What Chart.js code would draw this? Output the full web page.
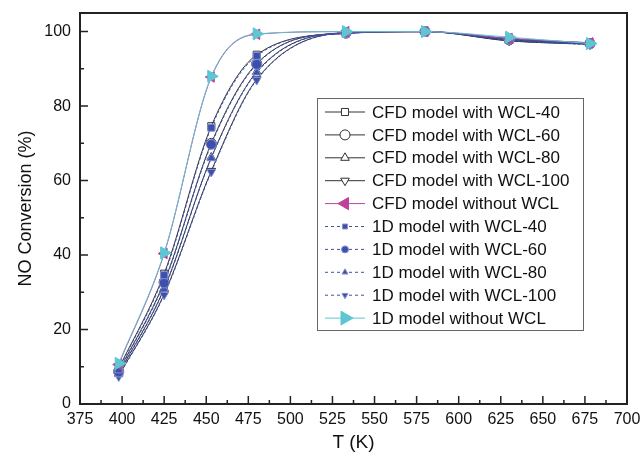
<!DOCTYPE html>
<html><head><meta charset="utf-8">
<script src="https://cdn.jsdelivr.net/npm/chart.js@4.4.1/dist/chart.umd.min.js"></script>
<style>html,body{margin:0;padding:0;background:#fff}#wrap{width:642px;height:461px}</style>
</head><body><div id="wrap"><canvas id="c"></canvas></div>
<script>
const temps = [398, 425, 453, 480, 533, 580, 630, 678];
const cfd40  = [9.5, 35.0, 74.6, 93.8, 99.5, 100, 98.0, 97.0];
const cfd60  = [8.8, 32.8, 70.0, 91.4, 99.6, 100, 97.8, 96.8];
const cfd80  = [8.2, 31.0, 66.2, 89.2, 99.7, 100, 97.6, 96.7];
const cfd100 = [7.6, 29.5, 62.6, 87.2, 99.7, 100, 97.5, 96.6];
const cfdNo  = [10.6, 40.4, 87.8, 99.3, 100, 100, 98.2, 97.0];
const d40    = [9.3, 34.6, 74.2, 93.5, 99.5, 100, 98.2, 96.9];
const d60    = [8.6, 32.5, 69.7, 91.2, 99.6, 100, 98.0, 96.7];
const d80    = [8.0, 30.8, 66.0, 89.0, 99.7, 100, 97.8, 96.6];
const d100   = [7.4, 29.3, 62.3, 87.0, 99.7, 100, 97.6, 96.5];
const dNo    = [10.9, 40.6, 88.0, 99.4, 100, 100, 98.5, 96.8];
const labels = ["CFD model with WCL-40","CFD model with WCL-60","CFD model with WCL-80","CFD model with WCL-100","CFD model without WCL",
  "1D model with WCL-40","1D model with WCL-60","1D model with WCL-80","1D model with WCL-100","1D model without WCL"];
const xTicks = [375,400,425,450,475,500,525,550,575,600,625,650,675,700];
const yTicks = [0,20,40,60,80,100];

const dark = '#333333', blue = '#3a4fb0', mag = '#c0409a', cyan = '#5cc6d2';
function pts(arr){ return temps.map((t,i)=>({x:t,y:arr[i]})); }
function ds(label, arr, opt){
  return Object.assign({label, data: pts(arr), borderWidth:1, pointRadius:5, pointHoverRadius:5,
    cubicInterpolationMode:'monotone', fill:false}, opt);
}
const datasets = [
  ds(labels[5], d40, {borderColor:blue, borderDash:[3,2], pointStyle:'rect', pointBackgroundColor:blue, pointBorderColor:'#8890c8', order:2}),
  ds(labels[6], d60, {borderColor:blue, borderDash:[3,2], pointStyle:'circle', pointBackgroundColor:blue, pointBorderColor:'#8890c8', order:2}),
  ds(labels[7], d80, {borderColor:blue, borderDash:[3,2], pointStyle:'triangle', pointBackgroundColor:blue, pointBorderColor:'#8890c8', order:2}),
  ds(labels[8], d100, {borderColor:blue, borderDash:[3,2], pointStyle:'triangle', pointRotation:180, pointBackgroundColor:blue, pointBorderColor:'#8890c8', order:2}),
  ds(labels[0], cfd40, {borderColor:dark, pointStyle:'rect', pointBackgroundColor:'rgba(255,255,255,0)', pointBorderColor:dark, order:3}),
  ds(labels[1], cfd60, {borderColor:dark, pointStyle:'circle', pointBackgroundColor:'rgba(255,255,255,0)', pointBorderColor:dark, order:3}),
  ds(labels[2], cfd80, {borderColor:dark, pointStyle:'triangle', pointBackgroundColor:'rgba(255,255,255,0)', pointBorderColor:dark, order:3}),
  ds(labels[3], cfd100, {borderColor:dark, pointStyle:'triangle', pointRotation:180, pointBackgroundColor:'rgba(255,255,255,0)', pointBorderColor:dark, order:3}),
  ds(labels[4], cfdNo, {borderColor:mag, pointStyle:'triangle', pointRotation:-90, pointBackgroundColor:mag, pointBorderColor:mag, pointRadius:6, order:1}),
  ds(labels[9], dNo, {borderColor:cyan, pointStyle:'triangle', pointRotation:90, pointBackgroundColor:cyan, pointBorderColor:cyan, pointRadius:7, order:0})
];
const legendStyles = [
  {dash:[], color:dark, style:'rect', fill:'#fff', border:dark},
  {dash:[], color:dark, style:'circle', fill:'#fff', border:dark},
  {dash:[], color:dark, style:'triangle', rot:0, fill:'#fff', border:dark},
  {dash:[], color:dark, style:'triangle', rot:180, fill:'#fff', border:dark},
  {dash:[], color:mag, style:'triangle', rot:-90, fill:mag, border:mag, r:7},
  {dash:[3,3], color:blue, style:'rect', fill:blue, border:'#8890c8', r:3.5},
  {dash:[3,3], color:blue, style:'circle', fill:blue, border:'#8890c8', r:3.5},
  {dash:[3,3], color:blue, style:'triangle', rot:0, fill:blue, border:'#8890c8', r:3.5},
  {dash:[3,3], color:blue, style:'triangle', rot:180, fill:blue, border:'#8890c8', r:3.5},
  {dash:[], color:cyan, style:'triangle', rot:90, fill:cyan, border:cyan, r:8}
];

const framePlugin = {
  id:'frame',
  afterDatasetsDraw(chart){
    const {ctx, chartArea:a, scales} = chart;
    ctx.save();
    ctx.strokeStyle = '#222'; ctx.lineWidth = 2;
    ctx.strokeRect(a.left, a.top, a.right-a.left, a.bottom-a.top);
    ctx.lineWidth = 1.5;
    ctx.beginPath();
    for (let v=375; v<=700; v+=12.5){
      const x = scales.x.getPixelForValue(v);
      const L = (Math.round(v) % 25 === 0) ? 8 : 4;
      ctx.moveTo(x, a.bottom); ctx.lineTo(x, a.bottom - L);
    }
    for (let v=0; v<=100; v+=10){
      const y = scales.y.getPixelForValue(v);
      const L = (v % 20 === 0) ? 8 : 4;
      ctx.moveTo(a.left, y); ctx.lineTo(a.left + L, y);
    }
    ctx.stroke();
    // legend
    const bx = 317, by = 98, bw = 266, bh = 232;
    ctx.fillStyle = '#fff';
    ctx.fillRect(bx, by, bw, bh);
    ctx.strokeStyle = '#666'; ctx.lineWidth = 1;
    ctx.strokeRect(bx+0.5, by+0.5, bw, bh);
    ctx.font = '17px "Liberation Sans", Arial, sans-serif';
    ctx.textBaseline = 'middle';
    for (let i=0;i<10;i++){
      const s = legendStyles[i];
      const y = 112 + i*22.9;
      ctx.strokeStyle = s.color; ctx.lineWidth = 1;
      ctx.setLineDash(s.dash);
      ctx.beginPath(); ctx.moveTo(325, y); ctx.lineTo(365, y); ctx.stroke();
      ctx.setLineDash([]);
      ctx.fillStyle = s.fill; ctx.strokeStyle = s.border;
      Chart.helpers.drawPoint(ctx, {pointStyle:s.style, radius:s.r||5, borderWidth:1, rotation:s.rot||0}, 345, y);
      ctx.fillStyle = '#111';
      ctx.fillText(labels[i], 372, y+1);
    }
    ctx.restore();
  }
};

new Chart(document.getElementById('c'), {
  type:'line',
  data:{datasets},
  plugins:[framePlugin],
  options:{
    responsive:true, maintainAspectRatio:false, animation:false,
    layout:{padding:{left:0, top:13, right:15, bottom:0}},
    plugins:{legend:{display:false}, tooltip:{enabled:false}},
    scales:{
      x:{type:'linear', min:375, max:700,
        afterBuildTicks(s){ s.ticks = xTicks.map(v=>({value:v})); },
        afterFit(s){ s.height = 57; s.paddingLeft = 0; s.paddingRight = 0; },
        grid:{display:false, drawTicks:false}, border:{display:false},
        ticks:{color:'#111', padding:6, maxRotation:0, font:{size:16, family:'"Liberation Sans", Arial, sans-serif'}},
        title:{display:true, text:'T (K)', color:'#111', padding:{top:0,bottom:7}, font:{size:19, family:'"Liberation Sans", Arial, sans-serif'}}
      },
      y:{type:'linear', min:0, max:105,
        afterBuildTicks(s){ s.ticks = yTicks.map(v=>({value:v})); },
        afterFit(s){ s.width = 80; s.paddingTop = 0; s.paddingBottom = 0; },
        grid:{display:false, drawTicks:false}, border:{display:false},
        ticks:{color:'#111', padding:9, font:{size:16, family:'"Liberation Sans", Arial, sans-serif'}},
        title:{display:true, text:'NO Conversion (%)', color:'#111', padding:{top:15,bottom:0}, font:{size:18, family:'"Liberation Sans", Arial, sans-serif'}}
      }
    }
  }
});
</script></body></html>
